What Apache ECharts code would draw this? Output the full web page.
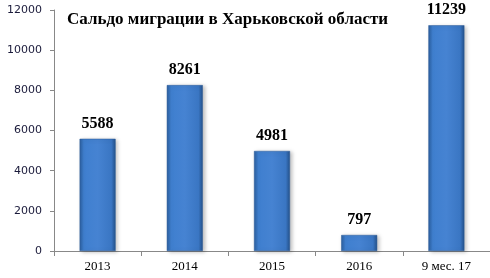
<!DOCTYPE html>
<html><head><meta charset="utf-8">
<script src="https://cdn.jsdelivr.net/npm/echarts@6/dist/echarts.min.js"></script>
<style>html,body{margin:0;padding:0;background:#fff}#c{width:490px;height:278px}</style>
</head><body><div id="c"></div>
<script>
const categories = ['2013','2014','2015','2016','9 мес. 17'];
const values = [5588, 8261, 4981, 797, 11239];
const yTicks = [0, 2000, 4000, 6000, 8000, 10000, 12000];
const titleText = 'Сальдо миграции в Харьковской области';

const chart = echarts.init(document.getElementById('c'));
const barColor = new echarts.graphic.LinearGradient(0,0,1,0,[
  {offset:0,color:'#2b5f9e'},
  {offset:0.12,color:'#3f7fcf'},
  {offset:0.5,color:'#4683d2'},
  {offset:0.88,color:'#3a76c3'},
  {offset:1,color:'#24518a'}
]);
chart.setOption({
  animation:false,
  title:{text:titleText,left:62,top:6,textStyle:{fontFamily:'Liberation Serif',fontWeight:'bold',fontSize:17,color:'#000'}},
  grid:{left:54,top:10,bottom:27,width:441},
  xAxis:{type:'category',data:categories,
    axisLine:{lineStyle:{color:'#888'}},
    axisTick:{show:true,length:5,lineStyle:{color:'#888'}},
    axisLabel:{fontFamily:'Liberation Serif',fontSize:13,color:'#000',margin:9}},
  yAxis:{type:'value',min:0,max:12000,interval:2000,
    axisLine:{show:true,lineStyle:{color:'#888'}},
    axisTick:{show:true,length:4,lineStyle:{color:'#888'}},
    splitLine:{show:false},
    axisLabel:{fontFamily:'DejaVu Sans',fontSize:11,color:'#1a1a3a',margin:12,
      formatter:v=>yTicks.includes(v)?String(v):''}},
  series:[{type:'bar',data:values,barWidth:36,
    itemStyle:{color:barColor,borderColor:'#2a5a98',borderWidth:0.5,shadowColor:'rgba(0,0,0,0.25)',shadowBlur:4,shadowOffsetX:2,shadowOffsetY:1},
    label:{show:true,position:'top',distance:7,fontFamily:'Liberation Serif',fontWeight:'bold',fontSize:16,color:'#000'}}]
});
</script></body></html>
